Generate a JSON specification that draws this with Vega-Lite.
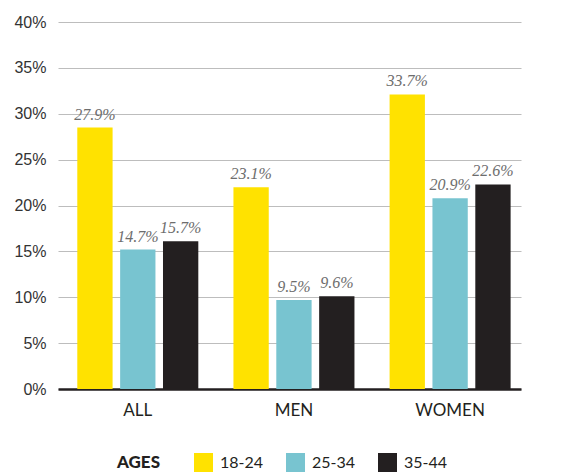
{
  "$schema": "https://vega.github.io/schema/vega-lite/v6.json",
  "autosize": {"type": "none"},
  "padding": {"left": 58, "top": 22, "right": 55, "bottom": 84},
  "width": 463,
  "height": 367,
  "config": {"view": {"stroke": null}, "background": "white"},
  "data": {
    "values": [
      {"group": "ALL", "age": "18-24", "value": 28.5, "label": "27.9%"},
      {"group": "ALL", "age": "25-34", "value": 15.2, "label": "14.7%"},
      {"group": "ALL", "age": "35-44", "value": 16.1, "label": "15.7%"},
      {"group": "MEN", "age": "18-24", "value": 22.0, "label": "23.1%"},
      {"group": "MEN", "age": "25-34", "value": 9.7, "label": "9.5%"},
      {"group": "MEN", "age": "35-44", "value": 10.1, "label": "9.6%"},
      {"group": "WOMEN", "age": "18-24", "value": 32.1, "label": "33.7%"},
      {"group": "WOMEN", "age": "25-34", "value": 20.8, "label": "20.9%"},
      {"group": "WOMEN", "age": "35-44", "value": 22.3, "label": "22.6%"}
    ]
  },
  "encoding": {
    "x": {
      "field": "group", "type": "nominal", "sort": ["ALL", "MEN", "WOMEN"],
      "scale": {"paddingInner": 0.225, "paddingOuter": 0.095, "align": 0.65},
      "axis": {
        "title": null, "labelAngle": 0, "ticks": false,
        "domainColor": "#231F20", "domainWidth": 2.5,
        "labelFont": "Lato", "labelFontSize": 17, "labelColor": "#231F20",
        "labelPadding": 13
      }
    },
    "xOffset": {
      "field": "age", "type": "nominal",
      "scale": {"paddingInner": 0.176, "paddingOuter": 0}
    },
    "y": {
      "field": "value", "type": "quantitative",
      "scale": {"domain": [0, 40], "nice": false},
      "axis": {
        "title": null, "values": [0, 5, 10, 15, 20, 25, 30, 35, 40],
        "labelExpr": "datum.value + '%'",
        "domain": false, "ticks": false, "grid": true,
        "gridColor": "#bdbdbd", "gridWidth": 1,
        "labelFont": "Liberation Sans", "labelFontSize": 16, "labelColor": "#333333",
        "labelPadding": 12
      }
    }
  },
  "layer": [
    {
      "mark": {"type": "bar"},
      "encoding": {
        "color": {
          "field": "age", "type": "nominal",
          "scale": {"domain": ["18-24", "25-34", "35-44"], "range": ["#FFE200", "#78C4D0", "#231F20"]},
          "legend": {
            "title": "AGES", "orient": "none", "legendX": 59, "legendY": 431,
            "direction": "horizontal", "titleOrient": "left",
            "titleFont": "Lato", "titleFontWeight": 900, "titleFontSize": 17, "titleColor": "#231F20",
            "titlePadding": 34, "titleAnchor": "middle", "titleBaseline": "middle",
            "symbolType": "square", "symbolSize": 361, "symbolStrokeWidth": 0,
            "labelFont": "Lato", "labelFontSize": 16, "labelColor": "#231F20",
            "labelOffset": 7, "columnPadding": 22
          }
        }
      }
    },
    {
      "mark": {"type": "text", "baseline": "bottom", "dy": -5, "font": "Liberation Serif", "fontStyle": "italic", "fontSize": 16, "color": "#6d6d6d"},
      "encoding": {"text": {"field": "label"}}
    }
  ]
}
